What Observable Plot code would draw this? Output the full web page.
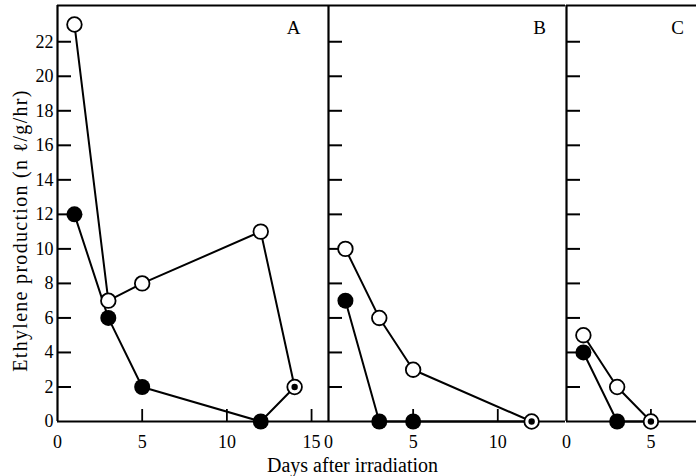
<!DOCTYPE html>
<html><head><meta charset="utf-8">
<script src="https://cdn.jsdelivr.net/npm/d3@7"></script>
<script src="https://cdn.jsdelivr.net/npm/@observablehq/plot@0.6"></script>
<style>
html,body{margin:0;padding:0;background:#fff;overflow:hidden}
#chart{position:relative;width:696px;height:476px;font-family:"Liberation Serif",serif}
#chart svg{position:absolute;left:0;top:0;overflow:visible;background:transparent}
</style></head><body><div id="chart"></div>
<script>
// ---- data ----
const panelNames = ["A", "B", "C"];
const daysA = [1, 3, 5, 12, 14];
const openA = [23, 7, 8, 11, 2];
const filledA = [12, 6, 2, 0, 2];
const daysB = [1, 3, 5, 12];
const openB = [10, 6, 3, 0];
const filledB = [7, 0, 0, 0];
const daysC = [1, 3, 5];
const openC = [5, 2, 0];
const filledC = [4, 0, 0];
const yTicks = [0, 2, 4, 6, 8, 10, 12, 14, 16, 18, 20, 22];
const xTicksA = [0, 5, 10, 15];
const xTicksB = [0, 5, 10];
const xTicksC = [0, 5];
const xMaxA = 16, xMaxB = 14, xMaxC = 7.7;
const yMax = 24.1;
const yLabel = "Ethylene production (n ℓ/g/hr)";
const xLabel = "Days after irradiation";

// ---- layout ----
const W = 696, H = 476, mTop = 5, mBottom = 55;
const panels = [
  {name: panelNames[0], days: daysA, open: openA, filled: filledA, ticks: xTicksA, xMax: xMaxA, left: 57, right: 328, labelAnchor: "top-right", labelDx: -35},
  {name: panelNames[1], days: daysB, open: openB, filled: filledB, ticks: xTicksB, xMax: xMaxB, left: 328, right: 565, labelAnchor: "top-right", labelDx: -26},
  {name: panelNames[2], days: daysC, open: openC, filled: filledC, ticks: xTicksC, xMax: xMaxC, left: 566, right: 696, labelAnchor: "top-left", labelDx: 111}
];
const innerH = H - mTop - mBottom;
const font = '"Liberation Serif", "DejaVu Serif", serif';
const chart = document.getElementById("chart");

panels.forEach((p, i) => {
  const open = p.days.map((d, k) => ({day: d, v: p.open[k]}));
  const filled = p.days.map((d, k) => ({day: d, v: p.filled[k]}));
  const both = open.filter((o, k) => o.v === p.filled[k]);
  const filledOnly = filled.filter((f, k) => f.v !== p.open[k]);
  const innerW = p.right - p.left;
  const isA = i === 0;
  const marks = [
    Plot.ruleY([0, yMax], {stroke: "black", strokeWidth: 2.2}),
    Plot.ruleX([0], {stroke: "black", strokeWidth: 2.2}),
    Plot.tickY(yTicks.filter(d => d > 0), {y: d => d, stroke: "black", strokeWidth: 2, insetRight: innerW - 14}),
    Plot.tickX(p.ticks.filter(d => d > 0), {x: d => d, stroke: "black", strokeWidth: 1.8, insetTop: innerH - 12}),
    Plot.line(open, {x: "day", y: "v", stroke: "black", strokeWidth: 2}),
    Plot.line(filled, {x: "day", y: "v", stroke: "black", strokeWidth: 2}),
    Plot.dot(filledOnly, {x: "day", y: "v", r: 8, fill: "black"}),
    Plot.dot(open, {x: "day", y: "v", r: 7.3, fill: "white", stroke: "black", strokeWidth: 1.8}),
    Plot.dot(both, {x: "day", y: "v", r: 3.2, fill: "black"}),
    Plot.text([p.name], {frameAnchor: p.labelAnchor, dx: p.labelDx, dy: 22, textAnchor: "middle", lineAnchor: "middle", fontSize: 19})
  ];
  if (isA) {
    marks.push(
      Plot.text([yLabel], {frameAnchor: "left", rotate: -90, dx: -37, dy: 17, textAnchor: "middle", lineAnchor: "middle", fontSize: 20}),
      Plot.text([xLabel], {frameAnchor: "bottom-left", dx: 295, dy: 44, textAnchor: "middle", lineAnchor: "middle", fontSize: 20})
    );
  }
  const svg = Plot.plot({
    width: W, height: H,
    marginLeft: p.left, marginRight: W - p.right, marginTop: mTop, marginBottom: mBottom,
    style: {fontFamily: font, fontSize: "18px", background: "transparent", overflow: "visible", color: "black"},
    x: {domain: [0, p.xMax], ticks: p.ticks, tickSize: 0, tickPadding: 14, label: null, tickFormat: d => String(d)},
    y: {domain: [0, yMax], ticks: yTicks, axis: isA ? "left" : null, tickSize: 0, tickPadding: 4, label: null, tickFormat: d => String(d)},
    marks
  });
  if (isA) {
    d3.select(svg).selectAll("text").filter(function () { return this.textContent === yLabel; })
      .style("letter-spacing", "1.3px");
  }
  chart.appendChild(svg);
});
</script>
</body></html>
